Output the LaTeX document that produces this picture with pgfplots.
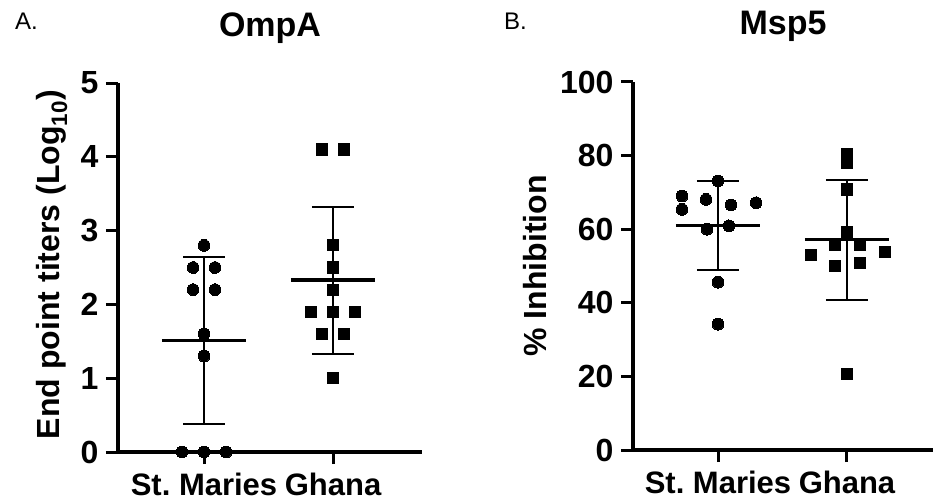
\documentclass[border=0pt]{standalone}
\usepackage{fontspec}
\setmainfont{Liberation Sans}
\usepackage{pgfplots}
\pgfplotsset{compat=1.18}
\pgfplotsset{
  myaxis/.style={
    scale only axis,
    axis lines=left,
    axis line style={line width=4pt,-},
    tick align=outside,
    major tick length=12pt,
    tick style={line width=3pt,black},
    xtick={1,2},
    xticklabels={St.\ Maries,Ghana},
    xticklabel style={font=\bfseries\fontsize{31}{36}\selectfont,yshift=-5pt},
    yticklabel style={font=\bfseries\fontsize{32}{36}\selectfont,xshift=-4pt},
    /pgf/number format/assume math mode=true,
    label style={font=\bfseries\fontsize{32}{38}\selectfont},
    title style={font=\bfseries\fontsize{34}{40}\selectfont,at={(0.5,1)},anchor=base,yshift=41pt},
    clip=false,
  },
  circ/.style={only marks,mark=*,mark size=5.9pt,mark options={fill=black,draw=black,line width=0pt}},
  sqr/.style={only marks,mark=square*,mark size=5.6pt,mark options={fill=black,draw=black,line width=0pt}},
  meanl/.style={black,line width=3.5pt,no marks},
  sdl/.style={black,line width=2pt,no marks},
}
\begin{document}
\begin{tikzpicture}
\useasboundingbox (0pt,0pt) rectangle (933pt,501pt);
\node[anchor=base west,font=\fontsize{24}{28}\selectfont,inner sep=0pt] at (15pt,471pt) {A.};
\node[anchor=base west,font=\fontsize{24}{28}\selectfont,inner sep=0pt] at (504pt,471pt) {B.};
% Panel A
\begin{axis}[myaxis,
  at={(118pt,49pt)},anchor=south west,
  width=304pt,height=369pt,
  xmin=0.333,xmax=2.69,ymin=0,ymax=5,
  ytick={0,1,2,3,4,5},
  title={OmpA},
  ylabel={End point titers (Log\textsubscript{10})},
  ylabel style={at={(axis description cs:-0.217,0.508)},anchor=center},
]
\addplot[circ] table {
x y
1 2.80
0.915 2.50
1.085 2.50
0.915 2.20
1.085 2.20
1 1.60
1 1.30
0.829 0
1 0
1.171 0
};
\addplot[sqr] table {
x y
1.915 4.10
2.085 4.10
2 2.80
2 2.50
2 2.20
1.829 1.90
2 1.90
2.171 1.90
1.915 1.60
2.085 1.60
2 1.00
};
% mean and SD, St. Maries
\addplot[meanl] coordinates {(0.674,1.51) (1.326,1.51)};
\addplot[sdl] coordinates {(1,0.38) (1,2.64)};
\addplot[sdl] coordinates {(0.837,0.38) (1.163,0.38)};
\addplot[sdl] coordinates {(0.837,2.64) (1.163,2.64)};
% mean and SD, Ghana
\addplot[meanl] coordinates {(1.674,2.33) (2.326,2.33)};
\addplot[sdl] coordinates {(2,1.33) (2,3.32)};
\addplot[sdl] coordinates {(1.837,1.33) (2.163,1.33)};
\addplot[sdl] coordinates {(1.837,3.32) (2.163,3.32)};
\end{axis}
% Panel B
\begin{axis}[myaxis,
  at={(633pt,51pt)},anchor=south west,
  width=300pt,height=368pt,
  xmin=0.341,xmax=2.667,ymin=0,ymax=100,
  ytick={0,20,40,60,80,100},
  title={Msp5},
  ylabel={\% Inhibition},
  ylabel style={at={(axis description cs:-0.327,0.5)},anchor=center},
]
\addplot[circ] table {
x y
1 73.1
0.721 69.0
0.721 65.4
0.907 68.1
1.100 66.6
1.295 67.2
0.915 60.0
1.085 60.9
1 45.6
1 34.2
};
\addplot[sqr] table {
x y
2 80.4
2 77.9
2 70.8
2 59.3
1.907 55.7
2.100 55.7
1.721 53.0
2.295 53.9
1.907 50.0
2.100 50.9
2 20.6
};
% mean and SD, St. Maries
\addplot[meanl] coordinates {(0.674,61.0) (1.326,61.0)};
\addplot[sdl] coordinates {(1,48.9) (1,73.1)};
\addplot[sdl] coordinates {(0.837,48.9) (1.163,48.9)};
\addplot[sdl] coordinates {(0.837,73.1) (1.163,73.1)};
% mean and SD, Ghana
\addplot[meanl] coordinates {(1.674,57.2) (2.326,57.2)};
\addplot[sdl] coordinates {(2,40.8) (2,73.4)};
\addplot[sdl] coordinates {(1.837,40.8) (2.163,40.8)};
\addplot[sdl] coordinates {(1.837,73.4) (2.163,73.4)};
\end{axis}
\end{tikzpicture}
\end{document}
